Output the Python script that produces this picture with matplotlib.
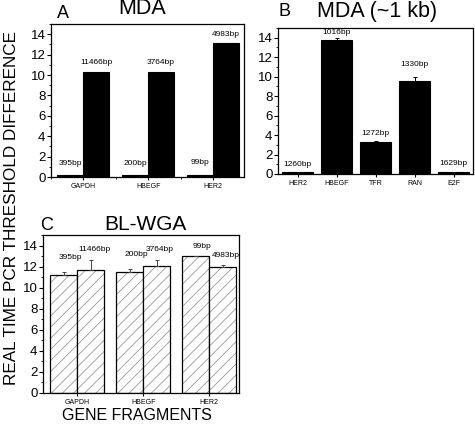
import matplotlib
matplotlib.use("Agg")
import matplotlib.pyplot as plt
import numpy as np
from matplotlib.ticker import MultipleLocator

plt.rcParams["font.family"] = ["Liberation Sans", "DejaVu Sans"]
plt.rcParams["hatch.linewidth"] = 0.55

# Panel A: MDA, short vs long fragment per gene
genes_a = ["GAPDH", "HBEGF", "HER2"]
short_a = [0.2, 0.2, 0.2]
long_a = [10.3, 10.25, 13.1]
short_lbl_a = ["395bp", "200bp", "99bp"]
long_lbl_a = ["11466bp", "3764bp", "4983bp"]
short_lbl_y_a = [1.3, 1.3, 1.4]
long_lbl_y_a = [11.2, 11.2, 14.0]

# Panel B: MDA (~1 kb)
genes_b = ["HER2", "HBEGF", "TFR", "RAN", "E2F"]
vals_b = [0.2, 13.8, 3.25, 9.6, 0.2]
err_b = [0.0, 0.15, 0.1, 0.4, 0.0]
lbl_b = ["1260bp", "1016bp", "1272bp", "1330bp", "1629bp"]
lbl_y_b = [1.0, 14.5, 4.2, 11.3, 1.1]

# Panel C: BL-WGA
genes_c = ["GAPDH", "HBEGF", "HER2"]
short_c = [11.24, 11.5, 13.05]
short_err_c = [0.25, 0.3, 0.0]
long_c = [11.7, 12.1, 11.97]
long_err_c = [0.9, 0.55, 0.2]
short_lbl_c = ["395bp", "200bp", "99bp"]
long_lbl_c = ["11466bp", "3764bp", "4983bp"]
short_lbl_y_c = [12.85, 13.1, 13.9]
long_lbl_y_c = [13.6, 13.6, 13.05]


def style_axis(ax, ticks, labels):
    ax.set_ylim(0, 15)
    ax.yaxis.set_major_locator(MultipleLocator(2))
    ax.yaxis.set_minor_locator(MultipleLocator(1))
    ax.set_xticks(ticks)
    ax.set_xticklabels(labels, fontsize=5)
    ax.tick_params(axis="y", which="major", direction="out", length=3, width=0.8,
                   labelsize=9.5, pad=1)
    ax.tick_params(axis="y", which="minor", direction="out", length=1.5, width=0.6)
    ax.tick_params(axis="x", which="major", direction="out", length=2.5, width=0.8, pad=2)
    for s in ax.spines.values():
        s.set_linewidth(0.9)


fig = plt.figure(figsize=(4.75, 4.25), dpi=100)

# ---- A ----
ax_a = fig.add_axes([0.1074, 0.5835, 0.4063, 0.36])
x = np.arange(len(genes_a))
w = 0.4
ax_a.bar(x - w / 2, short_a, w, color="black", edgecolor="black", linewidth=0.8)
ax_a.bar(x + w / 2, long_a, w, color="black", edgecolor="black", linewidth=0.8)
for i in range(len(genes_a)):
    ax_a.text(x[i] - w / 2, short_lbl_y_a[i], short_lbl_a[i], ha="center", va="center", fontsize=6)
    ax_a.text(x[i] + w / 2, long_lbl_y_a[i], long_lbl_a[i], ha="center", va="center", fontsize=6)
ax_a.set_xlim(-0.5, 2.48)
ax_a.xaxis.set_minor_locator(MultipleLocator(0.5))
ax_a.tick_params(axis="x", which="minor", direction="out", length=1.5, width=0.6)
style_axis(ax_a, x, genes_a)

# ---- B ----
ax_b = fig.add_axes([0.5853, 0.5906, 0.4105, 0.3435])
xb = np.arange(len(genes_b))
ax_b.bar(xb, vals_b, 0.8, color="black", edgecolor="black", linewidth=0.8,
         yerr=[np.zeros(len(err_b)), err_b], error_kw=dict(ecolor="black", elinewidth=0.7,
                                                         capsize=1.5, capthick=0.7))
for i in range(len(genes_b)):
    ax_b.text(xb[i], lbl_y_b[i], lbl_b[i], ha="center", va="center", fontsize=6)
ax_b.set_xlim(-0.5, 4.5)
style_axis(ax_b, xb, genes_b)

# ---- C ----
ax_c = fig.add_axes([0.0905, 0.0753, 0.4126, 0.3718])
xc = np.arange(len(genes_c))
wc = 0.41
for off, vals, errs in [(-wc / 2, short_c, short_err_c), (wc / 2, long_c, long_err_c)]:
    ax_c.bar(xc + off, vals, wc, color="white", edgecolor="#909090", linewidth=0, hatch="///")
    ax_c.bar(xc + off, vals, wc, fill=False, edgecolor="black", linewidth=0.9,
             yerr=[np.zeros(len(errs)), errs],
             error_kw=dict(ecolor="#444444", elinewidth=0.7, capsize=1.5, capthick=0.7))
for i in range(len(genes_c)):
    ax_c.text(xc[i] - wc / 2 + 0.1, short_lbl_y_c[i], short_lbl_c[i], ha="center", va="center", fontsize=6)
    ax_c.text(xc[i] + wc / 2 + 0.05, long_lbl_y_c[i], long_lbl_c[i], ha="center", va="center", fontsize=6)
ax_c.set_xlim(-0.52, 2.45)
style_axis(ax_c, xc, genes_c)

# ---- titles and labels ----
fig.text(57 / 475, 1 - 14 / 425, "A", fontsize=13, ha="left", va="center")
fig.text(142 / 475, 1 - 9 / 425, "MDA", fontsize=15.5, ha="center", va="center")
fig.text(278 / 475, 1 - 12 / 425, "B", fontsize=13, ha="left", va="center")
fig.text(377 / 475, 1 - 12 / 425, "MDA (~1 kb)", fontsize=15.5, ha="center", va="center")
fig.text(40 / 475, 1 - 226 / 425, "C", fontsize=13, ha="left", va="center")
fig.text(145 / 475, 1 - 225 / 425, "BL-WGA", fontsize=15, ha="center", va="center")
fig.text(12 / 475, 1 - 208 / 425, "REAL TIME PCR THRESHOLD DIFFERENCE", fontsize=12.3,
         rotation=90, ha="center", va="center")
fig.text(137 / 475, 1 - 415 / 425, "GENE FRAGMENTS", fontsize=11.5, ha="center", va="center")

fig.savefig("out.png", dpi=100)
plt.close(fig)
